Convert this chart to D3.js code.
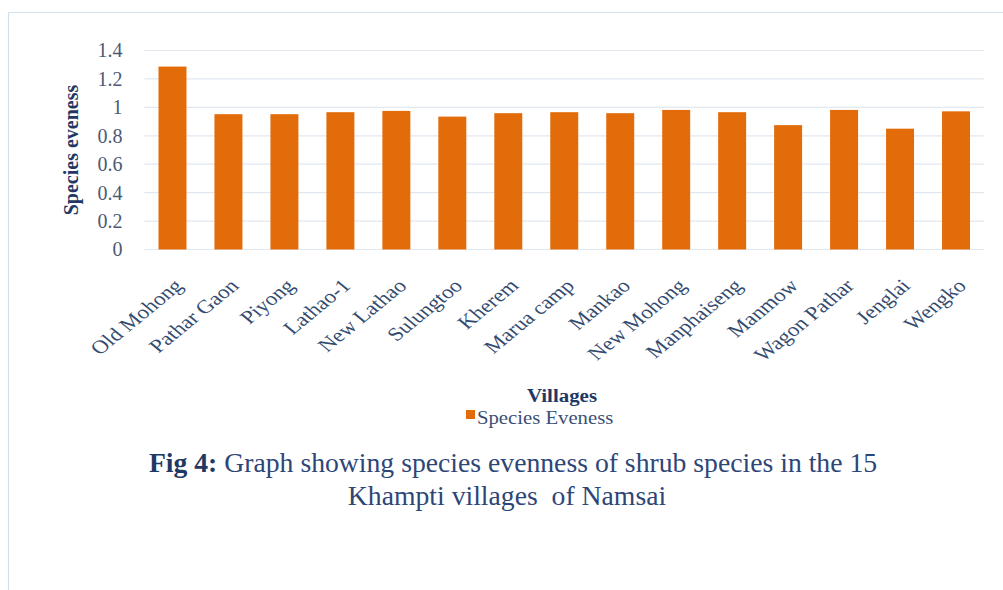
<!DOCTYPE html>
<html>
<head>
<meta charset="utf-8">
<script src="https://cdn.jsdelivr.net/npm/d3@7"></script>
<style>
  body { margin: 0; background: #fff; }
  svg { display: block; font-family: "Liberation Serif", "Times New Roman", serif; }
</style>
</head>
<body>
<div id="chart"></div>
<script>
var svgWidth = 1003;
var svgHeight = 590;

// data
var villages = ["Old Mohong", "Pathar Gaon", "Piyong", "Lathao-1", "New Lathao", "Sulungtoo",
  "Kherem", "Marua camp", "Mankao", "New Mohong", "Manphaiseng", "Manmow", "Wagon Pathar",
  "Jenglai", "Wengko"];
var evenness = [1.287, 0.952, 0.952, 0.966, 0.975, 0.935, 0.959, 0.966, 0.959, 0.982, 0.966,
  0.875, 0.982, 0.850, 0.972];
var yTicks = [0, 0.2, 0.4, 0.6, 0.8, 1, 1.2, 1.4];
var seriesName = "Species Eveness";

var margin = { top: 50.5, right: 19, bottom: 340.5, left: 144.5 };
var width = svgWidth - margin.left - margin.right;
var height = svgHeight - margin.top - margin.bottom;

// the source picture is a bit stretched sideways, text follows that
var stretch = 1.22;

var svg = d3.select("#chart")
  .append("svg")
  .attr("width", svgWidth)
  .attr("height", svgHeight);

// light frame of the figure box
svg.append("path")
  .attr("d", "M8.5,590 V12.5 H1003")
  .attr("fill", "none")
  .attr("stroke", "#cfe0ee")
  .attr("stroke-width", 1.2);

var chartGroup = svg.append("g")
  .attr("transform", `translate(${margin.left}, ${margin.top})`);

var xScale = d3.scaleBand()
  .domain(villages)
  .range([0, width])
  .paddingInner(0.5)
  .paddingOuter(0.25);

var yScale = d3.scaleLinear()
  .domain([0, 1.4])
  .range([height, 0]);

// gridlines
chartGroup.append("g")
  .selectAll("line")
  .data(yTicks)
  .enter()
  .append("line")
  .attr("x1", 0)
  .attr("x2", width)
  .attr("y1", d => yScale(d))
  .attr("y2", d => yScale(d))
  .attr("stroke", "#e1e8f0")
  .attr("stroke-width", 1.2);

// y axis labels
var leftAxis = d3.axisLeft(yScale)
  .tickValues(yTicks)
  .tickFormat(d => d === 0 || d === 1 ? String(d) : d.toFixed(1))
  .tickSize(0)
  .tickPadding(22);

var yAxisG = chartGroup.append("g").call(leftAxis);
yAxisG.select(".domain").remove();
yAxisG.selectAll("text")
  .attr("fill", "#4d5a74")
  .style("font-size", "20px")
  .style("font-family", "Liberation Serif, serif");

// bars
chartGroup.selectAll("rect.bar")
  .data(villages)
  .enter()
  .append("rect")
  .attr("class", "bar")
  .attr("x", d => xScale(d))
  .attr("width", xScale.bandwidth())
  .attr("y", (d, i) => yScale(evenness[i]))
  .attr("height", (d, i) => height - yScale(evenness[i]))
  .attr("fill", "#e36c0a");

// x labels, rotated
chartGroup.selectAll("text.xlab")
  .data(villages)
  .enter()
  .append("text")
  .attr("class", "xlab")
  .attr("transform", d => `translate(${xScale(d) + xScale.bandwidth() / 2}, ${height + 28}) scale(${stretch}, 1) rotate(-45)`)
  .attr("text-anchor", "end")
  .attr("dy", "0.7em")
  .attr("fill", "#344b70")
  .style("font-size", "19px")
  .text(d => d);

// axis titles
svg.append("text")
  .attr("transform", "translate(78, 150) rotate(-90)")
  .attr("text-anchor", "middle")
  .attr("fill", "#1f3864")
  .style("font-size", "20px")
  .style("font-weight", "bold")
  .text("Species eveness");

svg.append("text")
  .attr("transform", "translate(562, 402) scale(1.1, 1)")
  .attr("text-anchor", "middle")
  .attr("fill", "#1f3864")
  .style("font-size", "19px")
  .style("font-weight", "bold")
  .text("Villages");

// legend
var legend = svg.append("g").attr("transform", "translate(466, 410)");
legend.append("rect")
  .attr("width", 9)
  .attr("height", 9)
  .attr("fill", "#e36c0a");
legend.append("text")
  .attr("transform", "translate(11, 14) scale(1.12, 1)")
  .attr("fill", "#3b4f74")
  .style("font-size", "18.5px")
  .text(seriesName);

// caption
var caption = svg.append("text")
  .attr("text-anchor", "middle")
  .attr("fill", "#2e4677")
  .style("font-size", "27.7px");
var line1 = caption.append("tspan").attr("x", 513).attr("y", 472);
line1.append("tspan").attr("font-weight", "bold").attr("fill", "#1f3864").text("Fig 4:");
line1.append("tspan").text(" Graph showing species evenness of shrub species in the 15");
caption.append("tspan").attr("x", 507).attr("y", 505).text("Khampti villages  of Namsai")
  .style("white-space", "pre");
</script>
</body>
</html>
